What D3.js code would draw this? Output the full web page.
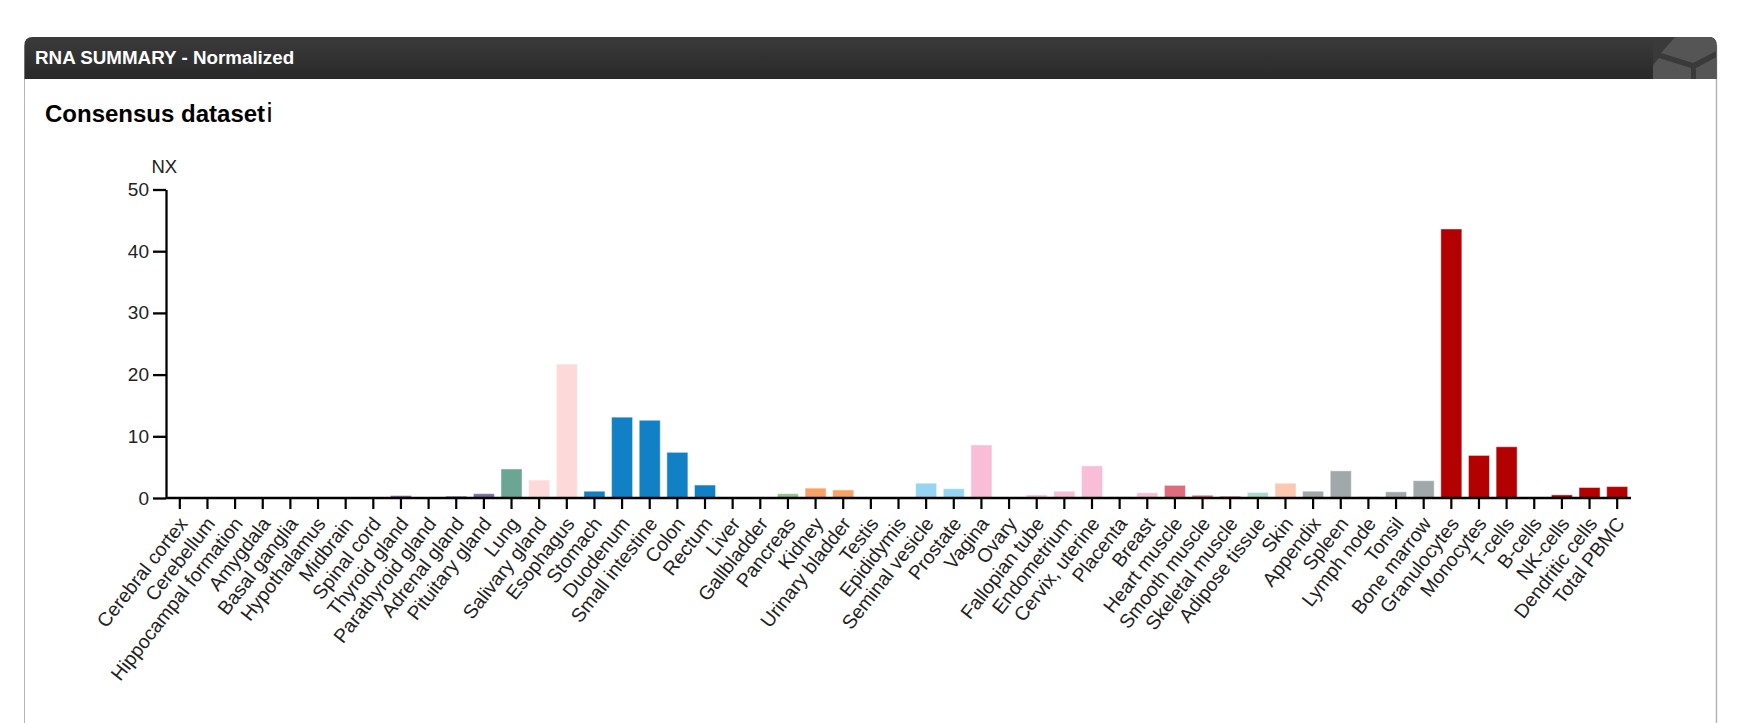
<!DOCTYPE html>
<html><head><meta charset="utf-8">
<script src="https://cdn.jsdelivr.net/npm/d3@7"></script>
<style>
body{margin:0;background:#fff;overflow:hidden;}
svg{display:block;font-family:Arial,"Liberation Sans",Helvetica,sans-serif;}
</style>
</head><body>
<svg id="chart" width="1747" height="723"></svg>
<script>
// ---------- data ----------
const categories = ["Cerebral cortex","Cerebellum","Hippocampal formation","Amygdala","Basal ganglia","Hypothalamus","Midbrain","Spinal cord","Thyroid gland","Parathyroid gland","Adrenal gland","Pituitary gland","Lung","Salivary gland","Esophagus","Stomach","Duodenum","Small intestine","Colon","Rectum","Liver","Gallbladder","Pancreas","Kidney","Urinary bladder","Testis","Epididymis","Seminal vesicle","Prostate","Vagina","Ovary","Fallopian tube","Endometrium","Cervix, uterine","Placenta","Breast","Heart muscle","Smooth muscle","Skeletal muscle","Adipose tissue","Skin","Appendix","Spleen","Lymph node","Tonsil","Bone marrow","Granulocytes","Monocytes","T-cells","B-cells","NK-cells","Dendritic cells","Total PBMC"];
const nxValues = [0,0,0,0,0,0,0,0,0.4,0,0.3,0.7,4.7,2.9,21.7,1.1,13.1,12.6,7.4,2.1,0,0,0.7,1.6,1.3,0,0,2.4,1.5,8.6,0.05,0.5,1.1,5.2,0.2,0.85,2.05,0.45,0.3,0.9,2.4,1.1,4.4,0.2,1.0,2.8,43.6,6.9,8.3,0,0.5,1.7,1.85];
const tissueGroups = ["brain","brain","brain","brain","brain","brain","brain","brain","endocrine","endocrine","endocrine","endocrine","lung","proximal","proximal","gi","gi","gi","gi","gi","liver","liver","pancreas","kidney","kidney","male","male","male","male","female","female","female","female","female","female","female","muscle","muscle","muscle","adipose","skin","lymphoid","lymphoid","lymphoid","lymphoid","lymphoid","blood","blood","blood","blood","blood","blood","blood"];
const yTicks = [0,10,20,30,40,50];
const yLabel = "NX";
const panelTitle = "RNA SUMMARY - Normalized";
const datasetTitle = "Consensus dataset";

// ---------- styling ----------
const groupColor = {brain:"#ffdd00",endocrine:"#7f6a9c",lung:"#6aa692",proximal:"#fdd9d9",gi:"#1280c4",liver:"#d1cbe5",pancreas:"#96c08e",kidney:"#f9a266",male:"#95d4f3",female:"#f8bdd7",muscle:"#de6c7d",adipose:"#a7dbcb",skin:"#fcc9b0",lymphoid:"#a1a8aa",blood:"#b30000"};

const svg = d3.select("#chart");
const W = 1747, H = 723;
const panelL = 24.5, panelR = 1716.5, panelT = 37, headH = 42;

// panel frame
const defs = svg.append("defs");
const grad = defs.append("linearGradient").attr("id","hg").attr("x1",0).attr("y1",0).attr("x2",0).attr("y2",1);
grad.append("stop").attr("offset","0%").attr("stop-color","#3b3b3b");
grad.append("stop").attr("offset","100%").attr("stop-color","#292929");
defs.append("clipPath").attr("id","hclip").append("path")
  .attr("d",`M${panelL},${panelT+headH} V${panelT+8} Q${panelL},${panelT} ${panelL+8},${panelT} H${panelR-8} Q${panelR},${panelT} ${panelR},${panelT+8} V${panelT+headH} Z`);

svg.append("line").attr("x1",panelL).attr("x2",panelL).attr("y1",panelT+8).attr("y2",H).attr("stroke","#b4b4b4").attr("stroke-width",1);
svg.append("line").attr("x1",panelR).attr("x2",panelR).attr("y1",panelT+8).attr("y2",H).attr("stroke","#b4b4b4").attr("stroke-width",1.5);

const head = svg.append("g").attr("clip-path","url(#hclip)");
head.append("rect").attr("x",panelL-1).attr("y",panelT).attr("width",panelR-panelL+2).attr("height",headH).attr("fill","url(#hg)");
// hexagon decoration
const hx = 1653;
head.append("rect").attr("x",hx).attr("y",panelT).attr("width",panelR-hx).attr("height",headH).attr("fill","#3a3a3a");
head.append("polygon").attr("points",`${hx+22},${panelT} ${panelR},${panelT} ${panelR},${panelT+14} ${hx+40},${panelT+26} ${hx+8},${panelT+16}`).attr("fill","#555");
head.append("polygon").attr("points",`${hx},${panelT+28} ${hx+6},${panelT+21} ${hx+38},${panelT+31} ${hx+38},${panelT+headH} ${hx},${panelT+headH}`).attr("fill","#555");
head.append("polygon").attr("points",`${hx+43},${panelT+31} ${panelR},${panelT+20} ${panelR},${panelT+headH} ${hx+43},${panelT+headH}`).attr("fill","#555");

svg.append("text").attr("x",35).attr("y",64).attr("fill","#fff")
  .attr("font-weight","bold").attr("font-size",18.8).text(panelTitle);

const dt = svg.append("text").attr("x",45).attr("y",121.5).attr("fill","#000")
  .attr("font-weight","bold").attr("font-size",24);
dt.append("tspan").text(datasetTitle);
dt.append("tspan").attr("font-size",27).attr("font-weight","normal").attr("dx",1.5).text("i");

// ---------- scales ----------
const x = d3.scaleBand().domain(categories).range([166,1631]).paddingInner(0.24).paddingOuter(0.12);
const y = d3.scaleLinear().domain([0,50]).range([498,189.5]);

// bars
svg.append("g").selectAll("rect").data(categories).join("rect")
  .attr("x",d=>x(d))
  .attr("width",x.bandwidth())
  .attr("y",(d,i)=>y(nxValues[i]))
  .attr("height",(d,i)=>y(0)-y(nxValues[i]))
  .attr("fill",(d,i)=>groupColor[tissueGroups[i]])
  .attr("stroke","rgba(255,255,255,0.45)")
  .attr("stroke-width",1)
  .attr("display",(d,i)=>nxValues[i]>0?null:"none");

const axisFont = "Arial,'Liberation Sans',sans-serif";
// y axis
const ya = svg.append("g").attr("transform","translate(166,0)")
  .call(d3.axisLeft(y).tickValues(yTicks).tickSize(13).tickPadding(4).tickSizeOuter(0));
ya.select(".domain").attr("stroke","#000").attr("stroke-width",2.3);
ya.selectAll(".tick line").attr("stroke","#000").attr("stroke-width",2.3);
ya.selectAll(".tick text").attr("font-size",19).attr("fill","#222").attr("font-family",axisFont);

svg.append("text").attr("x",151.5).attr("y",173).attr("font-size",18.5).attr("fill","#222").attr("font-family",axisFont).text(yLabel);

// x axis
const xa = svg.append("g").attr("transform","translate(0,498)")
  .call(d3.axisBottom(x).tickSize(11).tickSizeOuter(0));
xa.select(".domain").attr("stroke","#000").attr("stroke-width",2.6).attr("d","M166,0H1631");
xa.selectAll(".tick line").attr("stroke","#000").attr("stroke-width",2.2);
xa.selectAll(".tick text")
  .attr("font-size",19.5).attr("fill","#222").attr("font-family",axisFont)
  .attr("text-anchor","end").attr("dy",null).attr("y",null)
  .attr("transform","translate(8.6,26) rotate(-52)");
</script>
</body></html>
